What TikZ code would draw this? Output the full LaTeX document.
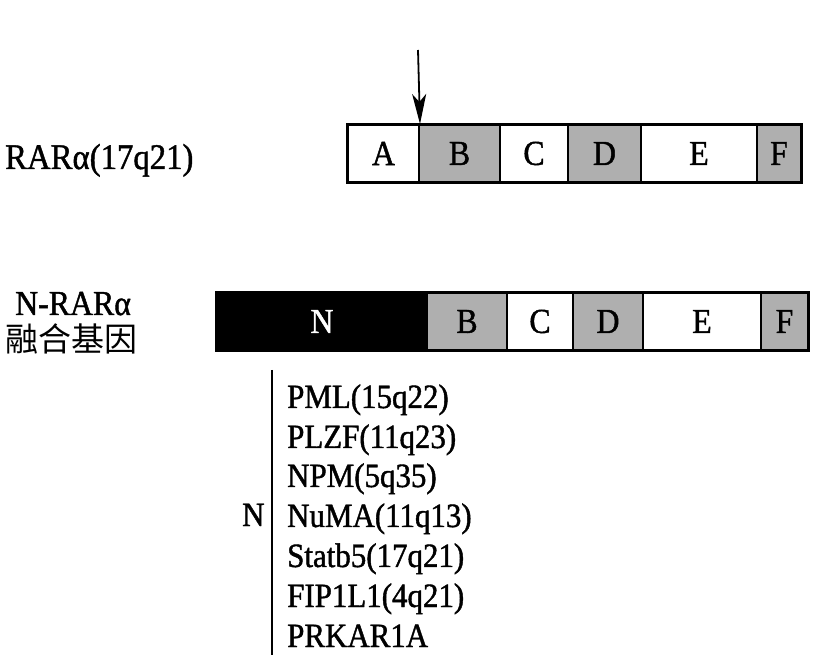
\documentclass[tikz,border=0pt]{standalone}
\usepackage{fontspec}
\setmainfont[FakeStretch=0.91,FakeBold=1.2]{Liberation Serif}
\newfontfamily\cjk{Noto Sans CJK SC}
\usetikzlibrary{arrows.meta}
\definecolor{seggray}{RGB}{175,175,175}
\tikzset{
  seg/.style={draw=black, line width=2pt, inner sep=0pt, minimum height=57pt, anchor=west, font=\fontsize{35}{37}\selectfont},
  grayseg/.style={seg, fill=seggray},
  whiteseg/.style={seg, fill=white},
  blackseg/.style={seg, fill=black, text=white},
  lbl/.style={inner sep=0pt, anchor=base west, font=\fontsize{36}{38}\selectfont},
  item/.style={inner sep=0pt, anchor=base west, font=\fontsize{34}{36}\selectfont},
}
\begin{document}
\begin{tikzpicture}[x=1pt,y=-1pt]
\useasboundingbox (0,0) rectangle (815,668);
% top bar
\node[whiteseg, minimum width=71pt] (a) at (347,153.5) {A};
\node[grayseg, minimum width=81pt] (b) at (418,153.5) {B};
\node[whiteseg, minimum width=68pt] (c) at (499,153.5) {C};
\node[grayseg, minimum width=73pt] (d) at (567,153.5) {D};
\node[whiteseg, minimum width=116pt] (e) at (640,153.5) {E};
\node[grayseg, minimum width=44pt] (f) at (756,153.5) {F};
\draw[line width=2.5pt] (a.north west) rectangle (f.south east);
\coordinate (arrtop) at (418,50);
\draw[line width=1.8pt, -{Stealth[length=30pt,width=14pt,inset=8pt]}] (arrtop) -- (a.north east);
\node[lbl] (rar) at (5,169) {RARα(17q21)};
% bottom bar
\node[blackseg, minimum width=210pt] (n2) at (216,321.5) {N};
\node[grayseg, minimum width=80pt] (b2) at (426,321.5) {B};
\node[whiteseg, minimum width=66pt] (c2) at (506,321.5) {C};
\node[grayseg, minimum width=70pt] (d2) at (572,321.5) {D};
\node[whiteseg, minimum width=118pt] (e2) at (642,321.5) {E};
\node[grayseg, minimum width=47pt] (f2) at (760,321.5) {F};
\draw[line width=2.5pt] (n2.north west) rectangle (f2.south east);
\node[lbl, font=\fontsize{35}{37}\selectfont] (nrar) at (15,315) {N-RARα};
\node[inner sep=0pt, anchor=west, font=\cjk\fontsize{33}{35}\selectfont] (fus) at (5,339) {融合基因};
% list
\coordinate (ltop) at (272,370);
\coordinate (lbot) at (272,655);
\draw[line width=2pt] (ltop) -- (lbot);
\node[item] (nn) at (242,526) {N};
\node[item] (i1) at (287,408) {PML(15q22)};
\node[item] (i2) at (287,448) {PLZF(11q23)};
\node[item] (i3) at (287,487) {NPM(5q35)};
\node[item] (i4) at (287,527) {NuMA(11q13)};
\node[item] (i5) at (287,567) {Statb5(17q21)};
\node[item] (i6) at (287,607) {FIP1L1(4q21)};
\node[item] (i7) at (287,647) {PRKAR1A};
\end{tikzpicture}
\end{document}
